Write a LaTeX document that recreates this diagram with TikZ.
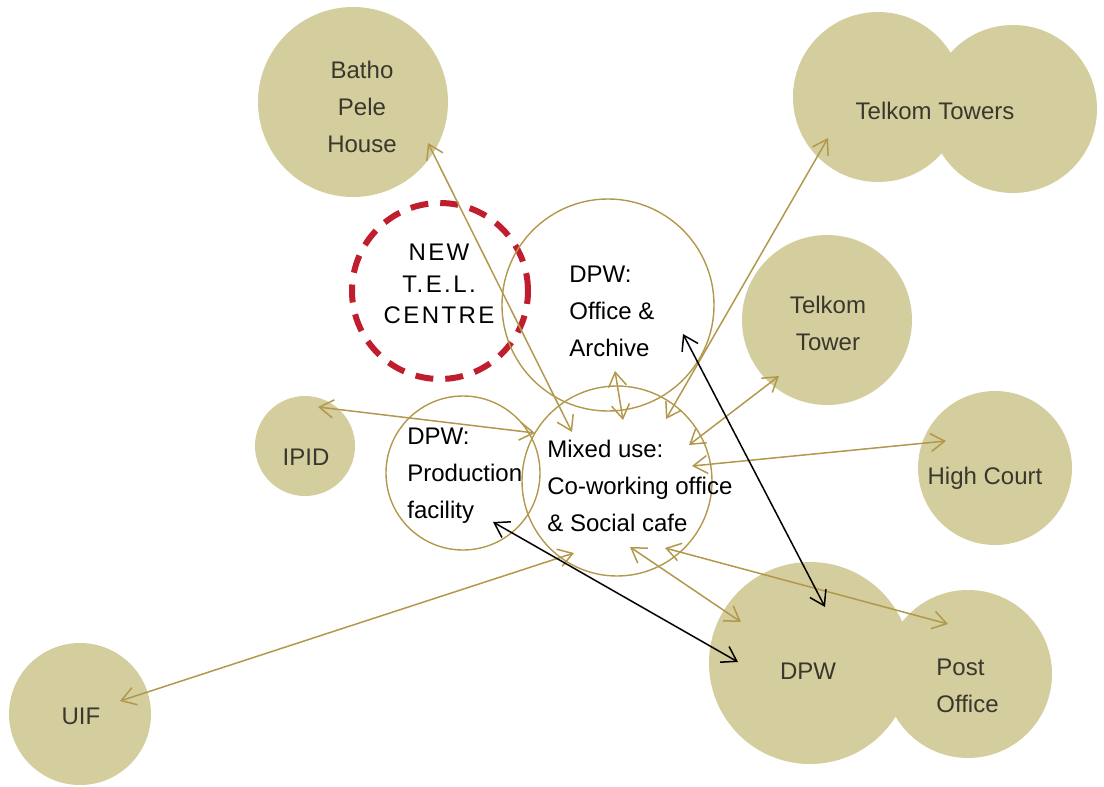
\documentclass[tikz,border=0pt]{standalone}
\usepackage{fontspec}
\setmainfont{Liberation Sans}
\newfontfamily\trackedfont[LetterSpace=10]{Liberation Sans}
\usetikzlibrary{arrows.meta}
\definecolor{sand}{RGB}{212,205,157}
\definecolor{ochre}{RGB}{178,152,76}
\definecolor{crimson}{RGB}{192,30,46}
\definecolor{ink}{RGB}{58,56,44}

\begin{document}
\begin{tikzpicture}[x=0.5pt, y=-0.5pt,
    place/.style={circle, fill=sand, inner sep=0pt, minimum size=#1},
    hollow/.style={circle, draw=ochre, line width=0.7pt, inner sep=0pt, minimum size=#1},
    newsite/.style={circle, draw=crimson, line width=3pt, dash pattern=on 9pt off 6pt, inner sep=0pt, minimum size=#1},
    greytext/.style={text=ink, align=center, inner sep=0pt, font=\fontsize{12}{18.5}\selectfont},
    blacktext/.style={text=black, align=left, anchor=west, inner sep=0pt, font=\fontsize{12}{18.5}\selectfont},
    link/.style={draw=ochre, line width=0.75pt, {Straight Barb[length=7pt,width=9pt]}-{Straight Barb[length=7pt,width=9pt]}},
    keylink/.style={link, draw=black}]
    \useasboundingbox (0,0) rectangle (1104,787);

    % existing buildings
    \node[place=95pt] (bp) at (353,102) {};
    \node[place=85pt] (tt1) at (878,97) {};
    \node[place=84pt] (tt2) at (1013,109) {};
    \node[place=85pt] (tk) at (827,320) {};
    \node[place=50pt] (ipid) at (305,446) {};
    \node[place=77pt] (hc) at (995,468) {};
    \node[place=101pt] (dpw) at (810,663) {};
    \node[place=84pt] (po) at (968,674) {};
    \node[place=71pt] (uif) at (80,714) {};

    % proposed uses
    \node[newsite=88pt] (tel) at (440,291) {};
    \node[hollow=106pt] (oa) at (608,305) {};
    \node[hollow=77pt] (pf) at (463,473) {};
    \node[hollow=95pt] (mx) at (617,481) {};

    % labels
    \node[greytext] (bp-t) at (362,107) {Batho\\Pele\\House};
    \node[greytext] (tt-t) at (935,111) {Telkom Towers};
    \node[greytext] (tk-t) at (828,323) {Telkom\\Tower};
    \node[greytext] (ipid-t) at (306,457) {IPID};
    \node[greytext] (hc-t) at (985,478) {High Court};
    \node[greytext] (dpw-t) at (808,671) {DPW};
    \node[greytext, align=left, anchor=west] (po-t) at (936,686) {Post\\Office};
    \node[greytext] (uif-t) at (81,716) {UIF};
    \node[text=black, align=center, inner sep=0pt, font=\trackedfont\fontsize{12}{15.75}\selectfont] (tel-t) at (439,284) {NEW\\T.E.L.\\CENTRE};
    \node[blacktext] (oa-t) at (569,311) {DPW:\\Office \&\\Archive};
    \node[blacktext] (pf-t) at (407,476) {DPW:\\Production\\facility};
    \node[blacktext] (mx-t) at (547,486) {Mixed use:\\Co-working office\\\& Social cafe};

    % links
    \draw[link] ([shift={(75,41)}]bp.center) -- ([shift={(-45,-49)}]mx.center);
    \draw[link] ([shift={(13,-39)}]ipid.center) -- ([shift={(-82,-48)}]mx.center);
    \draw[link] ([shift={(7,66)}]oa.center) -- ([shift={(6,-61)}]mx.center);
    \draw[link] ([shift={(-50,41)}]tt1.center) -- ([shift={(49,-62)}]mx.center);
    \draw[link] ([shift={(-48,56)}]tk.center) -- ([shift={(72,-36)}]mx.center);
    \draw[link] ([shift={(-49,-27)}]hc.center) -- ([shift={(75,-15)}]mx.center);
    \draw[link] ([shift={(13,66)}]mx.center) -- ([shift={(-69,-41)}]dpw.center);
    \draw[link] ([shift={(48,67)}]mx.center) -- ([shift={(-20,-50)}]po.center);
    \draw[link] ([shift={(40,-13)}]uif.center) -- ([shift={(-43,72)}]mx.center);
    \draw[keylink] ([shift={(75,29)}]oa.center) -- ([shift={(15,-56)}]dpw.center);
    \draw[keylink] ([shift={(30,49)}]pf.center) -- ([shift={(-72,-1)}]dpw.center);
\end{tikzpicture}
\end{document}
